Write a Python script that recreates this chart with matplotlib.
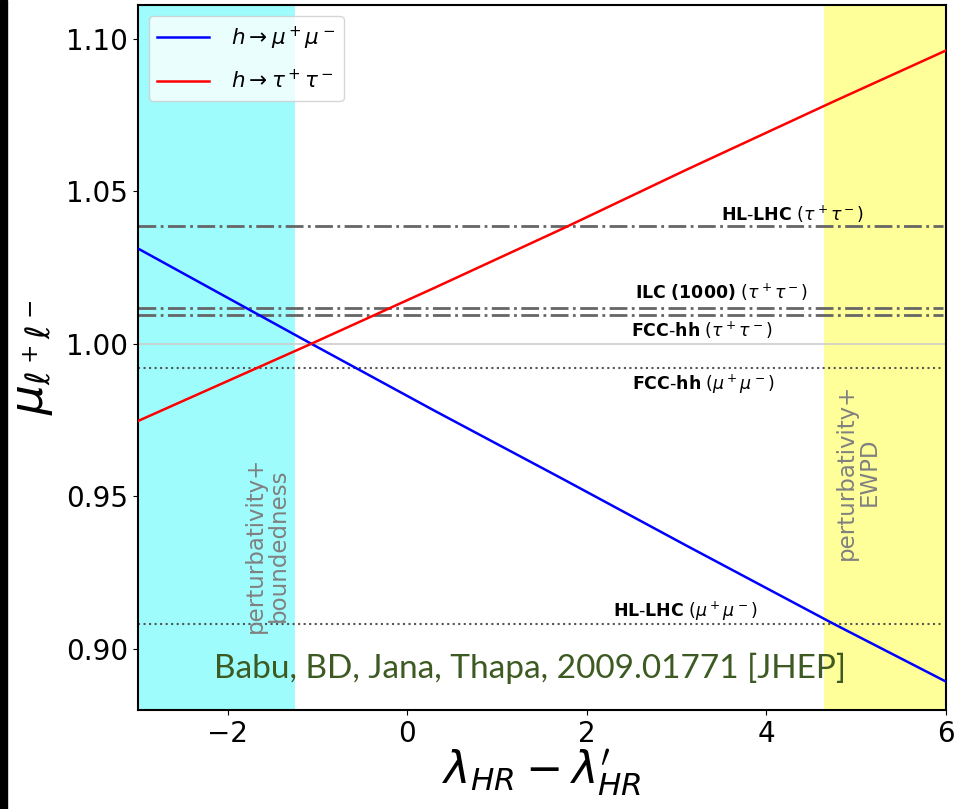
import numpy as np
import matplotlib.pyplot as plt
from matplotlib.patches import Rectangle

plt.rcParams['font.family'] = ['DejaVu Sans']

# Curves
x_pts = [-3.0, -1.07, 0.3, 1.75, 3.1, 4.75, 6.0]
mu_mumu = [1.0312, 1.0000, 0.9781, 0.9554, 0.9340, 0.9082, 0.8893]
mu_tautau = [0.9747, 1.0000, 1.0183, 1.0380, 1.0569, 1.0794, 1.0961]

# Projected sensitivities
lim_names = [r"$\bf{HL\text{-}LHC}$ $(\tau^+\tau^-)$",
             r"$\bf{ILC\ (1000)}$ $(\tau^+\tau^-)$",
             r"$\bf{FCC\text{-}hh}$ $(\tau^+\tau^-)$",
             r"$\bf{FCC\text{-}hh}$ $(\mu^+\mu^-)$",
             r"$\bf{HL\text{-}LHC}$ $(\mu^+\mu^-)$"]
lim_vals = [1.0385, 1.0116, 1.0093, 0.9920, 0.9082]
lim_style = ["-.", "-.", "-.", ":", ":"]
lab_x = [4.29, 3.50, 3.28, 3.30, 3.10]
lab_y = [1.0424, 1.0167, 1.0044, 0.9867, 0.9123]

excl_left = [-3.0, -1.25]
excl_right = [4.64, 6.0]

fig = plt.figure(figsize=(9.56, 8.09), dpi=100)
ax = fig.add_axes([0.1444, 0.1224, 0.8451, 0.8714])

ax.axvspan(*excl_left, color="#9ffcfc", zorder=0, lw=0)
ax.axvspan(*excl_right, color="#ffff99", zorder=0, lw=0)
ax.axhline(1.0, color="#cccccc", lw=1.2, zorder=1)

for v, ls in zip(lim_vals, lim_style):
    if ls == "-.":
        ax.plot([-3, 5.97], [v, v], ls=ls, color="#666666", lw=2, zorder=2)
    else:
        ax.plot([-3, 5.97], [v, v], ls=ls, color="#555555", lw=1.5, zorder=2)
for name, xx, yy in zip(lim_names, lab_x, lab_y):
    ax.text(xx, yy, name, fontsize=12.5, ha="center", va="center", zorder=3)

ax.plot(x_pts, mu_mumu, color="blue", lw=1.8, label=r"$h\to\mu^+\mu^-$", zorder=4)
ax.plot(x_pts, mu_tautau, color="red", lw=1.8, label=r"$h\to\tau^+\tau^-$", zorder=4)

ax.text(-1.57, 0.934, "perturbativity+\nboundedness", rotation=90, color="gray",
        fontsize=16.5, ha="center", va="center", linespacing=1.0)
ax.text(5.02, 0.958, "perturbativity+\nEWPD", rotation=90, color="gray",
        fontsize=16.5, ha="center", va="center", linespacing=1.0)

ax.text(1.37, 0.8935, "Babu, BD, Jana, Thapa, 2009.01771 [JHEP]", color="#3d5a22",
        fontsize=24, family="Lato", ha="center", va="center", zorder=5)

ax.set_xlim(-3, 6)
ax.set_ylim(0.88, 1.111)
ax.set_xticks([-2, 0, 2, 4, 6])
ax.set_yticks([0.90, 0.95, 1.00, 1.05, 1.10])
ax.tick_params(labelsize=20)
for s in ax.spines.values():
    s.set_linewidth(1.5)
ax.set_xlabel(r"$\lambda_{HR}-\lambda^{\prime}_{HR}$", fontsize=32, labelpad=0)
ax.set_ylabel(r"$\mu_{\ell^+\ell^-}$", fontsize=34, labelpad=8)
ax.legend(loc="upper left", fontsize=15.5, handlelength=2.4, labelspacing=0.8,
          handletextpad=1.0)

fig.add_artist(Rectangle((0, 0), 7 / 956, 1, transform=fig.transFigure, color="black"))
fig.savefig("out.png", dpi=100)
